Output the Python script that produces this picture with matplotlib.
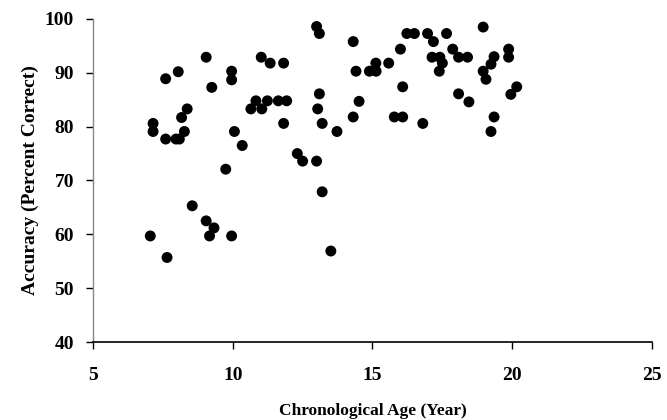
import matplotlib
matplotlib.use("Agg")
import matplotlib.pyplot as plt

age = [7.15, 7.15, 7.6, 7.6, 7.97, 8.09, 8.05, 8.27, 8.17, 8.37, 9.05, 9.25, 9.96, 9.96,
       10.06, 10.34, 10.65, 10.83, 11.04, 11.02, 11.34, 11.24, 11.63, 11.93, 11.82, 11.82,
       13.0, 13.1, 14.31, 13.1, 13.04, 13.2, 13.73, 14.52, 14.31, 14.41, 14.89, 15.13, 15.12,
       15.58, 15.78, 16.08, 16.08, 16.0, 16.23, 16.5, 16.8, 16.97, 17.18, 17.65, 17.13, 17.41,
       17.5, 17.39, 17.87, 18.08, 18.4, 18.08, 18.45, 18.96, 19.87, 19.87, 19.35, 19.24,
       18.96, 19.06, 20.16, 19.95, 19.35, 19.24,
       9.75, 8.55, 9.05, 9.33, 9.17, 9.96, 7.05, 7.65, 12.31, 12.5, 13.0, 13.2, 13.51]
accuracy = [80.6, 79.1, 88.9, 77.7, 77.7, 77.7, 90.2, 79.1, 81.7, 83.3, 92.9, 87.3, 90.3, 88.7,
            79.1, 76.5, 83.3, 84.8, 83.3, 92.9, 91.8, 84.8, 84.8, 84.8, 91.8, 80.6,
            98.6, 97.3, 95.8, 86.1, 83.3, 80.6, 79.1, 84.7, 81.8, 90.3, 90.3, 90.3, 91.8,
            91.8, 81.8, 81.8, 87.4, 94.4, 97.3, 97.3, 80.6, 97.3, 95.8, 97.3, 92.9, 92.9,
            91.8, 90.3, 94.4, 92.9, 92.9, 86.1, 84.6, 98.5, 94.4, 92.9, 93.0, 91.6,
            90.3, 88.8, 87.4, 86.0, 81.8, 79.1,
            72.1, 65.3, 62.5, 61.2, 59.7, 59.7, 59.7, 55.7, 75.0, 73.6, 73.6, 67.9, 56.9]

xticks = [5, 10, 15, 20, 25]
yticks = [40, 50, 60, 70, 80, 90, 100]

fig = plt.figure(figsize=(6.67, 4.2), dpi=100)
ax = fig.add_axes([0.1394, 0.1857, 0.8381, 0.7691])
ax.scatter(age, accuracy, s=62, color="black", edgecolors="none", clip_on=False, zorder=3)
ax.set_xlim(5, 25)
ax.set_ylim(40, 100)
ax.set_xticks(xticks)
ax.set_yticks(yticks)
for s in ["top", "right"]:
    ax.spines[s].set_visible(False)
ax.spines["bottom"].set_linewidth(1.2)
ax.spines["bottom"].set_color("black")
ax.spines["left"].set_linewidth(1.0)
ax.spines["left"].set_color("#888888")
ax.tick_params(direction="out", length=4.7, width=1, labelsize=14)
ax.tick_params(axis="x", pad=13)
ax.tick_params(axis="y", pad=9)
font = dict(family="Liberation Serif", weight="bold")
for lab in ax.get_xticklabels() + ax.get_yticklabels():
    lab.set_fontfamily("Liberation Serif")
    lab.set_fontweight("bold")
ax.set_xlabel("Chronological Age (Year)", fontsize=12.5, labelpad=14, **font)
ax.set_ylabel("Accuracy (Percent Correct)", fontsize=14, labelpad=4, **font)
fig.savefig("out.png", dpi=100)
